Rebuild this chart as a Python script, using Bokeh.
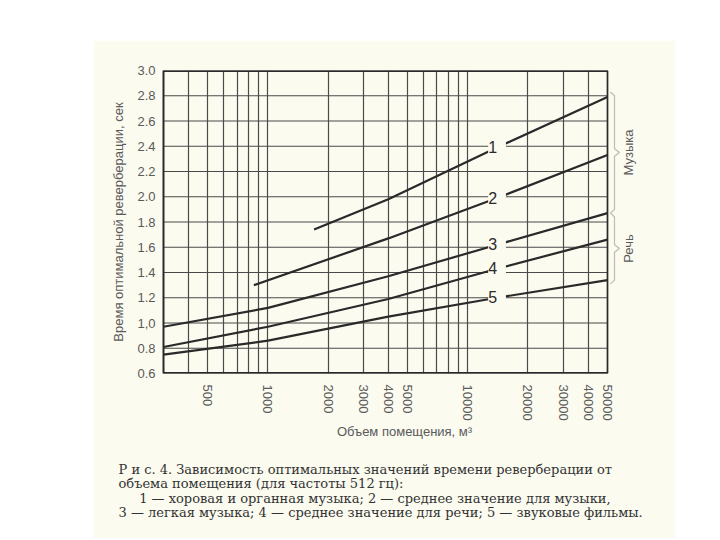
import numpy as np
from bokeh.plotting import figure
from bokeh.models import (Range1d, FixedTicker, NumeralTickFormatter, Label,
                          PolyAnnotation, Title, CustomJSTickFormatter)
from bokeh.embed import file_html
from bokeh.resources import INLINE

# ---------------- data ----------------
curve_names = ["1", "2", "3", "4", "5"]
vol_1 = [1700, 4000, 14000, 50000]
rt_1 = [1.74, 1.98, 2.39, 2.79]
vol_2 = [850, 4000, 14000, 50000]
rt_2 = [1.30, 1.67, 1.99, 2.33]
vol_3 = [300, 1000, 4000, 14000, 50000]
rt_3 = [0.97, 1.12, 1.37, 1.62, 1.87]
vol_4 = [300, 1000, 4000, 14000, 50000]
rt_4 = [0.81, 0.97, 1.19, 1.43, 1.66]
vol_5 = [300, 1000, 4000, 14000, 50000]
rt_5 = [0.75, 0.86, 1.05, 1.20, 1.34]
label_volume = 14000

x_ticks = [500, 1000, 2000, 3000, 4000, 5000, 10000, 20000, 30000, 40000, 50000]
x_grid = [400, 500, 600, 700, 800, 900, 1000, 2000, 3000, 4000, 5000, 6000,
          7000, 8000, 9000, 10000, 20000, 30000, 40000, 50000]
y_ticks = [0.6, 0.8, 1.0, 1.2, 1.4, 1.6, 1.8, 2.0, 2.2, 2.4, 2.6, 2.8, 3.0]
group_names = ["Музыка", "Речь"]

x_title = "Объем помещения, м³"
y_title = "Время оптимальной реверберации, сек"
caption_1 = "Р и с.  4.  Зависимость оптимальных значений времени реверберации от"
caption_2 = "объема помещения (для частоты 512 гц):"
caption_3 = "1 — хоровая и органная музыка; 2 — среднее значение для музыки,"
caption_4 = "3 — легкая музыка; 4 — среднее значение для речи; 5 — звуковые фильмы."

# ---------------- layout / style ----------------
X_MIN, X_MAX = 300, 50000
Y_MIN, Y_MAX = 0.6, 3.0
PAGE_X0, PAGE_Y0 = 93, 40            # figure's top-left on the page
W, H = 582, 498
FRAME_X0, FRAME_Y0 = 163, 70         # page position of frame's top-left
X_MAX_PAGE = 607                     # page x of the 50000 line
FRAME_X1, FRAME_Y1 = 645, 373        # frame's bottom-right (extra room for braces)
ML = FRAME_X0 - PAGE_X0
MT = FRAME_Y0 - PAGE_Y0
MR = PAGE_X0 + W - FRAME_X1
MB = PAGE_Y0 + H - FRAME_Y1
PX_PER_DEC = (X_MAX_PAGE - FRAME_X0) / (np.log10(X_MAX) - np.log10(X_MIN))
X_END = 10 ** (np.log10(X_MAX) + (FRAME_X1 - X_MAX_PAGE) / PX_PER_DEC)

BG = "#fbfbf0"
INK = "#2a2a2a"
GRID = "#4a4a4a"
TXT = "#5a5a5a"
SANS = "Liberation Sans"
SERIF = "DejaVu Serif"


def right_of_max(dx):
    """data x that lies dx pixels right of the 50000 line"""
    return X_MAX * 10 ** (dx / PX_PER_DEC)


p = figure(width=W, height=H, x_axis_type="log",
           x_range=Range1d(X_MIN, X_END), y_range=Range1d(Y_MIN, Y_MAX),
           output_backend="svg", toolbar_location=None,
           min_border_left=ML, min_border_right=MR, min_border_top=MT,
           min_border_bottom=MB, background_fill_color=BG, border_fill_color=BG,
           outline_line_color=None,
           margin=(PAGE_Y0, 0, 0, PAGE_X0))

# grid: vertical via the grid model, horizontal limited to the chart area
p.xgrid.ticker = FixedTicker(ticks=x_grid)
p.xgrid.grid_line_color = GRID
p.xgrid.grid_line_width = 1.2
p.xgrid.grid_line_alpha = 1.0
p.ygrid.visible = False
n = len(y_ticks)
p.segment(x0=[X_MIN] * n, y0=y_ticks, x1=[X_MAX] * n, y1=y_ticks,
          line_color=GRID, line_width=1.2)
p.segment(x0=[X_MIN, X_MIN], y0=[Y_MIN, Y_MAX], x1=[X_MAX, X_MAX],
          y1=[Y_MIN, Y_MAX], line_color=INK, line_width=3)
p.segment(x0=[X_MAX], y0=[Y_MIN], x1=[X_MAX], y1=[Y_MAX],
          line_color=INK, line_width=1.6)

# axes
p.xaxis.ticker = FixedTicker(ticks=x_ticks, minor_ticks=[])
p.xaxis.formatter = NumeralTickFormatter(format="0")
p.xaxis.major_label_orientation = "vertical"
p.xaxis.axis_line_color = None
p.yaxis.ticker = FixedTicker(ticks=y_ticks, minor_ticks=[])
p.yaxis.formatter = CustomJSTickFormatter(
    code="return Math.abs(tick - 1) < 1e-9 ? '1,0' : tick.toFixed(1);")
p.yaxis.axis_line_color = INK
p.yaxis.axis_line_width = 2
for ax in (p.xaxis, p.yaxis):
    ax.major_tick_line_color = None
    ax.minor_tick_line_color = None
    ax.major_label_text_font = SANS
    ax.major_label_text_font_size = "13px"
    ax.major_label_text_color = TXT
    ax.axis_label_text_font = SANS
    ax.axis_label_text_font_size = "13px"
    ax.axis_label_text_font_style = "normal"
    ax.axis_label_text_color = TXT
p.xaxis.major_label_standoff = 5
p.yaxis.major_label_standoff = 2
p.xaxis.axis_label = x_title
p.yaxis.axis_label = y_title
p.xaxis.axis_label_standoff = 0
p.yaxis.axis_label_standoff = 8

# curves
vols = [vol_1, vol_2, vol_3, vol_4, vol_5]
rts = [rt_1, rt_2, rt_3, rt_4, rt_5]
for name, v, t in zip(curve_names, vols, rts):
    p.line(v, t, line_color=INK, line_width=2.2)
    ly = float(np.interp(np.log10(label_volume), np.log10(v), t))
    p.add_layout(Label(x=label_volume, y=ly, text=" " + name + " ",
                       text_align="center", text_baseline="middle",
                       text_font=SANS, text_font_size="16px", text_color=INK,
                       background_fill_color=BG))

# braces on the right (music = curves 1-2, speech = curves 3-5)
ends = [t[-1] for t in rts]
groups = [(ends[0] + 0.04, ends[2]), (ends[2], ends[4] - 0.03)]


def brace(y_top, y_bot, hook_dx, line_dx, tip_dx, h):
    y_mid = (y_top + y_bot) / 2
    pts = [(hook_dx, y_top), (line_dx, y_top - h), (line_dx, y_mid + h),
           (tip_dx, y_mid), (line_dx, y_mid - h), (line_dx, y_bot + h),
           (hook_dx, y_bot)]
    xs = [right_of_max(dx) for dx, _ in pts]
    ys = [y for _, y in pts]
    return xs + xs[::-1], ys + ys[::-1]


for (yt, yb), gname in zip(groups, group_names):
    bx, by = brace(yt, yb, 3, 7, 12, 0.03)
    p.add_layout(PolyAnnotation(xs=bx, ys=by, fill_alpha=0, line_color=INK,
                                line_width=1.2))
    p.add_layout(Label(x=right_of_max(21), y=(yt + yb) / 2,
                       text=gname, angle=np.pi / 2, text_align="center",
                       text_baseline="middle", text_font=SANS,
                       text_font_size="13px", text_color=TXT))

# caption: one multi-line title below the x axis
indent = "\u00a0" * 5
caption = "\n".join([caption_1, caption_2, indent + caption_3, caption_4])
p.add_layout(Title(text=caption, align="left", offset=-45, standoff=36,
                   text_font=SERIF, text_font_size="13px",
                   text_line_height=0.97, text_font_style="normal",
                   text_color="#333333"), "below")

open("out.html", "w").write(file_html(p, INLINE))
